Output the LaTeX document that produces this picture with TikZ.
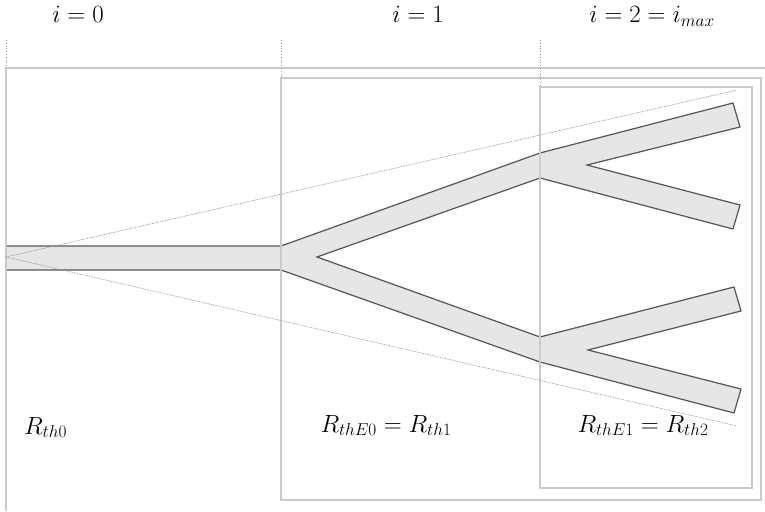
\documentclass[tikz,border=0pt]{standalone}
\usepackage{xcolor}
\definecolor{boxgray}{HTML}{CACACA}
\definecolor{treefill}{HTML}{E6E6E6}
\definecolor{treeline}{HTML}{555555}
\definecolor{dotgray}{HTML}{9A9A9A}
\begin{document}
\begin{tikzpicture}[x=1pt,y=-1pt,
  framebox/.style={draw=boxgray,line width=1.3pt},
  guide/.style={draw=dotgray,line width=0.8pt,dotted},
  ray/.style={draw=dotgray,line width=0.6pt,dash pattern=on 1.5pt off 1pt},
  tree/.style={fill=treefill,draw=treeline,line width=1.2pt,line join=miter},
  lbl/.style={inner sep=0pt,font=\fontsize{25}{30}\selectfont}]
\useasboundingbox (0,0) rectangle (765,511);
% tree outline
\coordinate (t0) at (6,246);
\coordinate (j1a) at (281,246);
\coordinate (j2a) at (540,153);
\draw[tree] (t0) -- (j1a) -- (j2a) -- (733,103) -- (740,127) -- (587,165)
  -- (740,205) -- (733,229) -- (540,178) -- (317,257) -- (540,337)
  -- (734,287) -- (741,311) -- (588,350) -- (741,389) -- (734,413)
  -- (540,362) -- (281,270) -- (6,270) -- cycle;
% frames
\draw[framebox] (765,68) -- (6,68) -- (6,511);
\draw[framebox] (281,78) rectangle (761,500);
\draw[framebox] (540,87) rectangle (752,488);
% dotted guides
\coordinate (g0) at (6,40); \coordinate (g0b) at (6,68);
\coordinate (g1) at (281,40); \coordinate (g1b) at (281,78);
\coordinate (g2) at (540,40); \coordinate (g2b) at (540,87);
\draw[guide] (g0) -- (g0b);
\draw[guide] (g1) -- (g1b);
\draw[guide] (g2) -- (g2b);
% rays
\coordinate (apex) at (6,257);
\coordinate (rt) at (737,90);
\coordinate (rb) at (737,426);
\draw[ray] (apex) -- (rt);
\draw[ray] (apex) -- (rb);
% labels
\node[lbl,anchor=base] (l0) at (78,23) {$i=0$};
\node[lbl,anchor=base] (l1) at (418,23) {$i=1$};
\node[lbl,anchor=base] (l2) at (652,23) {$i=2=i_{max}$};
\node[lbl,anchor=base west] (r0) at (24,434) {$R_{th0}$};
\node[lbl,anchor=base] (r1) at (386,432) {$R_{thE0}=R_{th1}$};
\node[lbl,anchor=base] (r2) at (643,432) {$R_{thE1}=R_{th2}$};
\end{tikzpicture}
\end{document}
